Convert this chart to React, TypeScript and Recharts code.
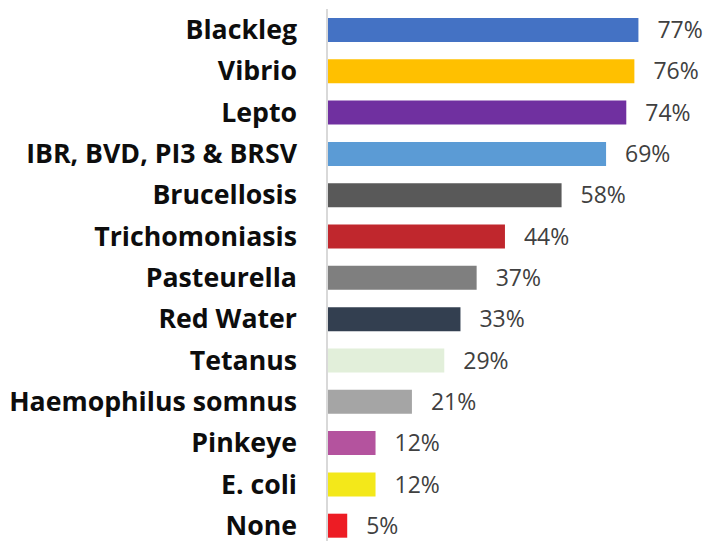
import { BarChart, Bar, XAxis, YAxis, Cell, LabelList } from "recharts";

// ===== DATA =====
const categories = [
  "Blackleg",
  "Vibrio",
  "Lepto",
  "IBR, BVD, PI3 & BRSV",
  "Brucellosis",
  "Trichomoniasis",
  "Pasteurella",
  "Red Water",
  "Tetanus",
  "Haemophilus somnus",
  "Pinkeye",
  "E. coli",
  "None",
];
const percents = [77, 76, 74, 69, 58, 44, 37, 33, 29, 21, 12, 12, 5];
const barColors = [
  "#4472C4",
  "#FFC000",
  "#7030A0",
  "#5B9BD5",
  "#595959",
  "#C0272D",
  "#7F7F7F",
  "#333F50",
  "#E2EFDA",
  "#A5A5A5",
  "#B4539E",
  "#F3E81A",
  "#ED1C24",
];

const chartData = categories.map((name, i) => ({ name, value: percents[i] }));

export default function App() {
  return (
    <div
      style={{
        position: "absolute",
        left: 0,
        top: 0,
        width: 707,
        height: 541,
        overflow: "hidden",
        background: "#fff",
      }}
    >
      <BarChart
        width={707}
        height={560}
        data={chartData}
        layout="vertical"
        margin={{ top: 9, right: 16, bottom: 14, left: 0 }}
      >
        <XAxis type="number" domain={[0, 90]} hide />
        <YAxis
          type="category"
          dataKey="name"
          width={327}
          tickLine={false}
          tickSize={0}
          tickMargin={30}
          axisLine={{ stroke: "#d9d9d9", strokeWidth: 2 }}
          interval={0}
          tick={{
            fill: "#0d0d0d",
            fontSize: 26.7,
            fontWeight: 700,
            fontFamily: "Open Sans",
          }}
        />
        <Bar dataKey="value" barSize={24} isAnimationActive={false}>
          {chartData.map((_, i) => (
            <Cell key={i} fill={barColors[i]} />
          ))}
          <LabelList
            dataKey="value"
            position="right"
            offset={19}
            formatter={(v: any) => `${v}%`}
            style={{ fill: "#404040", fontSize: 23, fontFamily: "Open Sans" }}
          />
        </Bar>
      </BarChart>
    </div>
  );
}
